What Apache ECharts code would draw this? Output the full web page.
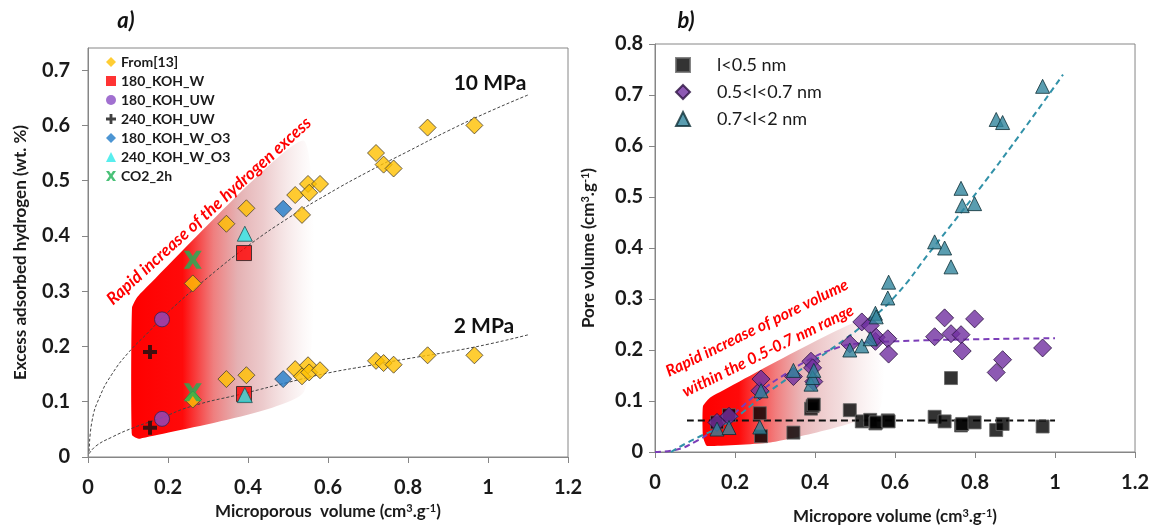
<!DOCTYPE html>
<html>
<head>
<meta charset="utf-8">
<script src="https://cdn.jsdelivr.net/npm/echarts@6/dist/echarts.min.js"></script>
<style>
  html, body { margin: 0; padding: 0; background: #fff; }
  #chart { width: 1152px; height: 530px; }
</style>
</head>
<body>
<div id="chart"></div>
<script>
// ---- axis ticks ----
const xTicks = [0, 0.2, 0.4, 0.6, 0.8, 1, 1.2]
const leftYTicks = [0, 0.1, 0.2, 0.3, 0.4, 0.5, 0.6, 0.7]
const rightYTicks = [0, 0.1, 0.2, 0.3, 0.4, 0.5, 0.6, 0.7, 0.8]

// ---- panel a) : hydrogen excess vs microporous volume ----
// samples from ref [13], at 10 MPa and 2 MPa
const refX = [0.262, 0.346, 0.396, 0.518, 0.535, 0.55, 0.553, 0.58, 0.72, 0.739, 0.764, 0.849, 0.966]
const ref10 = [0.314, 0.422, 0.450, 0.474, 0.438, 0.494, 0.478, 0.494, 0.550, 0.529, 0.522, 0.596, 0.600]
const ref2 = [0.104, 0.141, 0.148, 0.159, 0.146, 0.166, 0.153, 0.157, 0.174, 0.170, 0.167, 0.184, 0.184]

// this work
const sampleNames = ["180_KOH_W", "180_KOH_UW", "240_KOH_UW", "180_KOH_W_O3", "240_KOH_W_O3", "CO2_2h"]
const sampleX = [0.39, 0.185, 0.155, 0.488, 0.392, 0.262]
const sample10 = [0.369, 0.249, 0.19, 0.449, 0.404, 0.357]
const sample2 = [0.114, 0.069, 0.053, 0.141, 0.112, 0.117]

// trend curves
const fit10X = [0.003, 0.01, 0.03, 0.06, 0.1, 0.15, 0.2, 0.3, 0.4, 0.5, 0.6, 0.7, 0.8, 0.9, 1.0, 1.1]
const fit10Y = [0.01, 0.065, 0.11, 0.15, 0.188, 0.225, 0.262, 0.325, 0.382, 0.432, 0.476, 0.516, 0.553, 0.59, 0.624, 0.655]
const fit2X = [0.003, 0.02, 0.06, 0.11, 0.18, 0.26, 0.39, 0.5, 0.6, 0.7, 0.8, 0.9, 1.0, 1.1]
const fit2Y = [0.006, 0.02, 0.036, 0.052, 0.07, 0.092, 0.115, 0.135, 0.152, 0.165, 0.178, 0.19, 0.204, 0.221]

// shaded zone outline (data units)
const bandA = [[0.11, 0.04], [0.11, 0.27], [0.125, 0.291], [0.54, 0.572], [0.54, 0.118], [0.13, 0.033]]

// ---- panel b) : pore volume vs micropore volume ----
const poreX = [0.155, 0.185, 0.262, 0.265, 0.346, 0.390, 0.394, 0.397, 0.487, 0.517, 0.538, 0.551, 0.553, 0.582, 0.584, 0.699, 0.724, 0.740, 0.765, 0.768, 0.799, 0.853, 0.869, 0.969]
const smallPore = [0.058, 0.072, 0.076, 0.031, 0.038, 0.085, 0.090, 0.093, 0.082, 0.060, 0.063, 0.056, 0.058, 0.062, 0.060, 0.069, 0.060, 0.145, 0.052, 0.055, 0.058, 0.043, 0.055, 0.050]
const midPore = [0.058, 0.070, 0.120, 0.143, 0.148, 0.178, 0.165, 0.138, 0.212, 0.255, 0.248, 0.217, 0.225, 0.222, 0.192, 0.226, 0.263, 0.232, 0.230, 0.198, 0.261, 0.156, 0.181, 0.204]
const largePore = [0.045, 0.048, 0.049, 0.120, 0.160, 0.133, 0.146, 0.160, 0.200, 0.208, 0.222, 0.272, 0.265, 0.302, 0.333, 0.412, 0.400, 0.363, 0.517, 0.483, 0.487, 0.652, 0.646, 0.717]

const fitSmallX = [0.08, 1.0]
const fitSmallY = [0.062, 0.062]
const fitMidX = [0, 0.05, 0.1, 0.15, 0.2, 0.26, 0.33, 0.39, 0.45, 0.5, 0.6, 0.8, 1.0]
const fitMidY = [0, 0.004, 0.02, 0.045, 0.077, 0.117, 0.155, 0.183, 0.203, 0.212, 0.217, 0.221, 0.223]
const fitLargeX = [0.04, 0.08, 0.19, 0.27, 0.38, 0.45, 0.53, 0.6, 0.69, 0.81, 0.91, 1.02]
const fitLargeY = [0, 0.018, 0.062, 0.11, 0.17, 0.207, 0.255, 0.305, 0.395, 0.515, 0.62, 0.74]

const bandB = [[0.13, 0.012], [0.12, 0.03], [0.12, 0.09], [0.14, 0.108], [0.56, 0.27], [0.56, 0.08], [0.3, 0.02]]

const FONT = "Lato"
const pair = (xs, ys) => xs.map((x, i) => [x, ys[i]])

const plusPath = "path://M3.6,0 H6.4 V3.6 H10 V6.4 H6.4 V10 H3.6 V6.4 H0 V3.6 H3.6 Z"
const crossPath = "path://M0,0 H3 L5,3 L7,0 H10 L6.6,5 L10,10 H7 L5,7 L3,10 H0 L3.4,5 Z"

const fadeA = [
  { offset: 0, color: "rgba(255,0,0,1)" },
  { offset: 0.28, color: "rgba(255,10,10,1)" },
  { offset: 0.45, color: "rgba(238,120,120,0.95)" },
  { offset: 0.58, color: "rgba(226,168,170,0.9)" },
  { offset: 0.72, color: "rgba(230,185,187,0.75)" },
  { offset: 1, color: "rgba(240,215,215,0)" },
]
const fadeB = [
  { offset: 0, color: "rgba(255,0,0,1)" },
  { offset: 0.2, color: "rgba(255,10,10,1)" },
  { offset: 0.4, color: "rgba(240,110,110,0.9)" },
  { offset: 0.55, color: "rgba(228,168,170,0.8)" },
  { offset: 0.75, color: "rgba(232,190,192,0.55)" },
  { offset: 1, color: "rgba(240,215,215,0)" },
]

function band(pts, stops, xi, yi) {
  return {
    type: "custom",
    xAxisIndex: xi,
    yAxisIndex: yi,
    silent: true,
    z: 1,
    data: [[0, 0]],
    renderItem: (params, api) => ({
      type: "polygon",
      shape: { points: pts.map((p) => api.coord(p)), smooth: 0.15 },
      style: { fill: new echarts.graphic.LinearGradient(0, 0, 1, 0, stops) },
    }),
  }
}

function fitLine(xs, ys, xi, yi, color, width, dash) {
  return {
    type: "line",
    xAxisIndex: xi,
    yAxisIndex: yi,
    data: pair(xs, ys),
    smooth: true,
    showSymbol: false,
    silent: true,
    z: 2,
    lineStyle: { color: color, width: width, type: dash },
  }
}

const axisColor = "#868686"
const tickLabel = { fontFamily: FONT, fontWeight: "bold", fontSize: 20, color: "#1a1a1a" }
const supRich = {
  sup: { fontFamily: FONT, fontWeight: "bold", fontSize: 11, verticalAlign: "top", color: "#1a1a1a" },
}
const nameStyle = { fontFamily: FONT, fontWeight: "bold", fontSize: 17, color: "#1a1a1a", rich: supRich }

function xAxis(grid, gap, name) {
  return {
    gridIndex: grid,
    type: "value",
    min: 0,
    max: 1.2,
    interval: 0.2,
    axisLine: { lineStyle: { color: axisColor } },
    axisTick: { inside: false, length: 6, lineStyle: { color: axisColor }, customValues: xTicks },
    splitLine: { show: false },
    axisLabel: Object.assign({ margin: 21, customValues: xTicks }, tickLabel),
    name: name,
    nameLocation: "middle",
    nameGap: gap,
    nameTextStyle: nameStyle,
  }
}

const chart = echarts.init(document.getElementById("chart"))

const option = {
  backgroundColor: "#fff",
  animation: false,
  grid: [
    { left: 88, top: 48, width: 480, height: 409, show: true, borderColor: axisColor, borderWidth: 1 },
    { left: 655, top: 44, width: 482, height: 413, show: true, borderColor: axisColor, borderWidth: 1 },
  ],
  xAxis: [
    xAxis(0, 37, "Microporous  volume (cm{sup|3}.g{sup|-1})"),
    xAxis(1, 56, "Micropore volume (cm{sup|3}.g{sup|-1})"),
  ],
  yAxis: [
    {
      gridIndex: 0,
      type: "value",
      min: 0,
      max: 0.74,
      axisLine: { show: true, lineStyle: { color: axisColor } },
      axisTick: { show: true, length: 6, lineStyle: { color: axisColor }, customValues: leftYTicks },
      splitLine: { show: false },
      axisLabel: Object.assign({ margin: 18, customValues: leftYTicks }, tickLabel),
      name: "Excess adsorbed hydrogen (wt. %)",
      nameLocation: "middle",
      nameGap: 59,
      nameTextStyle: nameStyle,
    },
    {
      gridIndex: 1,
      type: "value",
      min: 0,
      max: 0.8,
      axisLine: { show: true, lineStyle: { color: axisColor } },
      axisTick: { show: true, length: 6, lineStyle: { color: axisColor }, customValues: rightYTicks },
      splitLine: { show: false },
      axisLabel: Object.assign({ margin: 12, customValues: rightYTicks }, tickLabel),
      name: "Pore volume (cm{sup|3}.g{sup|-1})",
      nameLocation: "middle",
      nameGap: 58,
      nameTextStyle: nameStyle,
    },
  ],
  legend: [
    {
      data: ["From[13]"].concat(sampleNames),
      orient: "vertical",
      left: 101,
      top: 50,
      itemWidth: 10,
      itemHeight: 10,
      itemGap: 5,
      itemStyle: { borderWidth: 0 },
      textStyle: { fontFamily: FONT, fontWeight: "bold", fontSize: 14, lineHeight: 14, color: "#1a1a1a" },
    },
    {
      data: ["l<0.5 nm", "0.5<l<0.7 nm", "0.7<l<2 nm"],
      orient: "vertical",
      left: 670,
      top: 51,
      itemWidth: 14,
      itemHeight: 14,
      itemGap: 9,
      textStyle: { fontFamily: FONT, fontSize: 18, lineHeight: 18, color: "#1a1a1a", padding: [0, 0, 0, 22] },
    },
  ],
  series: [
    band(bandA, fadeA, 0, 0),
    fitLine(fit10X, fit10Y, 0, 0, "#444", 1, [3, 2]),
    fitLine(fit2X, fit2Y, 0, 0, "#444", 1, [3, 2]),
    {
      name: "From[13]",
      type: "scatter",
      xAxisIndex: 0,
      yAxisIndex: 0,
      z: 3,
      symbol: "diamond",
      symbolSize: 17,
      itemStyle: { color: "#FFC000", borderColor: "#4a4030", borderWidth: 1 },
      data: pair(refX, ref10).concat(pair(refX, ref2)),
    },
    {
      name: sampleNames[0],
      type: "scatter",
      xAxisIndex: 0,
      yAxisIndex: 0,
      z: 3,
      symbol: "rect",
      symbolSize: 15,
      itemStyle: { color: "#FF0000", borderColor: "#222", borderWidth: 1 },
      data: [[sampleX[0], sample10[0]], [sampleX[0], sample2[0]]],
    },
    {
      name: sampleNames[1],
      type: "scatter",
      xAxisIndex: 0,
      yAxisIndex: 0,
      z: 3,
      symbol: "circle",
      symbolSize: 15,
      itemStyle: { color: "#8A4CC4", borderColor: "#3a2050", borderWidth: 1 },
      data: [[sampleX[1], sample10[1]], [sampleX[1], sample2[1]]],
    },
    {
      name: sampleNames[2],
      type: "scatter",
      xAxisIndex: 0,
      yAxisIndex: 0,
      z: 3,
      symbol: plusPath,
      symbolSize: 14,
      itemStyle: { color: "#111" },
      data: [[sampleX[2], sample10[2]], [sampleX[2], sample2[2]]],
    },
    {
      name: sampleNames[3],
      type: "scatter",
      xAxisIndex: 0,
      yAxisIndex: 0,
      z: 3,
      symbol: "diamond",
      symbolSize: 17,
      itemStyle: { color: "#1F7BC8", borderColor: "#28405a", borderWidth: 1 },
      data: [[sampleX[3], sample10[3]], [sampleX[3], sample2[3]]],
    },
    {
      name: sampleNames[4],
      type: "scatter",
      xAxisIndex: 0,
      yAxisIndex: 0,
      z: 3,
      symbol: "triangle",
      symbolSize: 15,
      itemStyle: { color: "#2EEAEA", borderColor: "#205050", borderWidth: 1 },
      data: [[sampleX[4], sample10[4]], [sampleX[4], sample2[4]]],
    },
    {
      name: sampleNames[5],
      type: "scatter",
      xAxisIndex: 0,
      yAxisIndex: 0,
      z: 3,
      symbol: crossPath,
      symbolSize: 18,
      itemStyle: { color: "#1DB256" },
      data: [[sampleX[5], sample10[5]], [sampleX[5], sample2[5]]],
    },

    band(bandB, fadeB, 1, 1),
    fitLine(fitSmallX, fitSmallY, 1, 1, "#111", 2, [7, 4]),
    fitLine(fitMidX, fitMidY, 1, 1, "#7B3DB8", 2, [6, 4]),
    fitLine(fitLargeX, fitLargeY, 1, 1, "#3191A8", 2, [6, 4]),
    {
      name: "l<0.5 nm",
      type: "scatter",
      xAxisIndex: 1,
      yAxisIndex: 1,
      z: 3,
      symbol: "rect",
      symbolSize: 13,
      itemStyle: { color: "#000", borderColor: "#666", borderWidth: 1 },
      data: pair(poreX, smallPore),
    },
    {
      name: "0.5<l<0.7 nm",
      type: "scatter",
      xAxisIndex: 1,
      yAxisIndex: 1,
      z: 3,
      symbol: "diamond",
      symbolSize: 18,
      itemStyle: { color: "#7030A0", borderColor: "#2a1040", borderWidth: 1 },
      data: pair(poreX, midPore),
    },
    {
      name: "0.7<l<2 nm",
      type: "scatter",
      xAxisIndex: 1,
      yAxisIndex: 1,
      z: 3,
      symbol: "triangle",
      symbolSize: 14,
      itemStyle: { color: "#31859C", borderColor: "#0e2e36", borderWidth: 1 },
      data: pair(poreX, largePore),
    },
  ],
  graphic: [
    { type: "text", x: 126, y: 21, z: 100, style: { text: "a)", font: "italic bold 22px Lato", fill: "#111", align: "center", verticalAlign: "middle" } },
    { type: "text", x: 686, y: 21, z: 100, style: { text: "b)", font: "italic bold 22px Lato", fill: "#111", align: "center", verticalAlign: "middle" } },
    { type: "text", x: 490, y: 83, z: 100, style: { text: "10 MPa", font: "bold 21px Lato", fill: "#111", align: "center", verticalAlign: "middle" } },
    { type: "text", x: 484, y: 326, z: 100, style: { text: "2 MPa", font: "bold 21px Lato", fill: "#111", align: "center", verticalAlign: "middle" } },
    {
      type: "text", x: 209, y: 211, z: 100, rotation: (42.3 * Math.PI) / 180,
      style: { text: "Rapid increase of the hydrogen excess", font: "italic bold 17px Lato", fill: "#FF0000", align: "center", verticalAlign: "middle" },
    },
    {
      type: "text", x: 757, y: 328, z: 100, rotation: (26.2 * Math.PI) / 180,
      style: { text: "Rapid increase of pore volume", font: "italic bold 16px Lato", fill: "#FF0000", align: "center", verticalAlign: "middle" },
    },
    {
      type: "text", x: 768, y: 351, z: 100, rotation: (26.2 * Math.PI) / 180,
      style: { text: "within the 0.5-0.7 nm range", font: "italic bold 16px Lato", fill: "#FF0000", align: "center", verticalAlign: "middle" },
    },
  ],
}

chart.setOption(option)
</script>
</body>
</html>
